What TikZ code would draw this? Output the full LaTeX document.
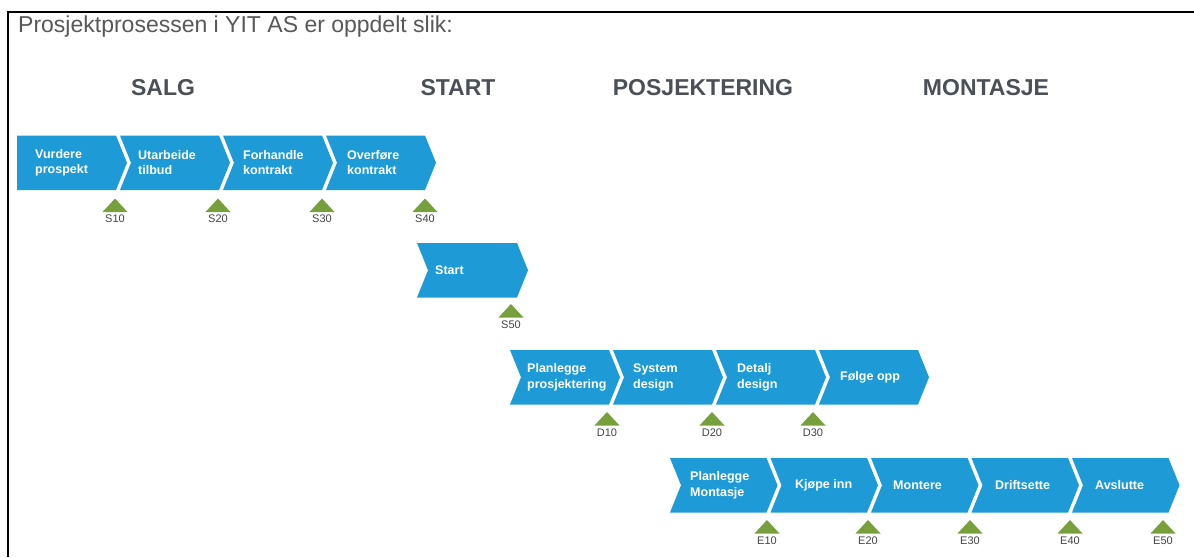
\documentclass[tikz,border=0pt]{standalone}
\usepackage{fontspec}
\setmainfont{Liberation Sans}
\definecolor{chevblue}{HTML}{1E9AD6}
\definecolor{msgreen}{HTML}{77A03C}
\definecolor{headgrey}{HTML}{4B5056}
\definecolor{titlegrey}{HTML}{585858}
\definecolor{labelgrey}{HTML}{454545}

% one process step: name, left x, top y, width, notch depth, text x, text
\newcommand{\procstep}[7]{%
  \fill[chevblue] (#2,#3) -- ++(#4,0) -- ++(11,27.25) -- ++(-11,27.25)
    -- (#2,#3+54.5) -- ++(#5,-27.25) -- cycle;
  \node[steptext] (#1) at (#6,#3+27.25) {#7};
}
% one milestone: name, x, top y, label
\newcommand{\milestone}[4]{%
  \fill[msgreen] (#2,#3) -- (#2+12.5,#3+13.5) -- (#2-12.5,#3+13.5) -- cycle;
  \node[mslabel] (#1) at (#2,#3+16.5) {#4};
}

\begin{document}
\begin{tikzpicture}[x=1pt,y=-1pt,
  steptext/.style={anchor=west, text=white, inner sep=0pt, align=left,
    font=\fontsize{12.5}{15.5}\selectfont\bfseries},
  phase/.style={anchor=base, text=headgrey, inner sep=0pt,
    font=\fontsize{23}{26}\selectfont\bfseries},
  mslabel/.style={anchor=north, text=labelgrey, inner sep=0pt,
    font=\fontsize{11}{12}\selectfont},
]
\useasboundingbox (0,0) rectangle (1194,557);
\fill[white] (0,0) rectangle (1194,557);
\draw[line width=2.4pt] (8,557) -- (8,12) -- (1194,12);

\node[anchor=base west, inner sep=0pt, text=titlegrey,
  font=\fontsize{23}{26}\selectfont] (title) at (18,32)
  {Prosjektprosessen i YIT AS er oppdelt slik:};

\node[phase] (salg) at (163,95) {SALG};
\node[phase] (start) at (458,95) {START};
\node[phase] (posj) at (703,95) {POSJEKTERING};
\node[phase] (mont) at (986,95) {MONTASJE};

% Salg
\procstep{vurdere}{17}{135.5}{99}{0}{35}{Vurdere\\prospekt}
\procstep{utarbeide}{120}{135.5}{99}{11}{138}{Utarbeide\\tilbud}
\procstep{forhandle}{223}{135.5}{99}{11}{243}{Forhandle\\kontrakt}
\procstep{overfore}{326}{135.5}{99}{11}{347}{Overføre\\kontrakt}
\milestone{s10}{115}{198.5}{S10}
\milestone{s20}{218}{198.5}{S20}
\milestone{s30}{322}{198.5}{S30}
\milestone{s40}{425}{198.5}{S40}

% Start
\procstep{startstep}{417}{243}{100}{11}{435}{Start}
\milestone{s50}{511}{304}{S50}

% Posjektering
\procstep{planpro}{510}{350}{99}{11}{527}{Planlegge\\prosjektering}
\procstep{sysdes}{613}{350}{99}{11}{633}{System\\design}
\procstep{detdes}{716}{350}{99}{11}{737}{Detalj\\design}
\procstep{folge}{819}{350}{99}{11}{840}{Følge opp}
\milestone{d10}{607}{412}{D10}
\milestone{d20}{712}{412}{D20}
\milestone{d30}{813}{412}{D30}

% Montasje
\procstep{planmon}{670}{458}{96.5}{11}{690}{Planlegge\\Montasje}
\procstep{kjope}{770.5}{458}{96.5}{11}{795}{Kjøpe inn}
\procstep{montere}{871}{458}{96.5}{11}{893}{Montere}
\procstep{drift}{971.5}{458}{96.5}{11}{995}{Driftsette}
\procstep{avslutte}{1072}{458}{96.5}{11}{1095}{Avslutte}
\milestone{e10}{767}{520}{E10}
\milestone{e20}{868}{520}{E20}
\milestone{e30}{970}{520}{E30}
\milestone{e40}{1070}{520}{E40}
\milestone{e50}{1163}{520}{E50}
\end{tikzpicture}
\end{document}
